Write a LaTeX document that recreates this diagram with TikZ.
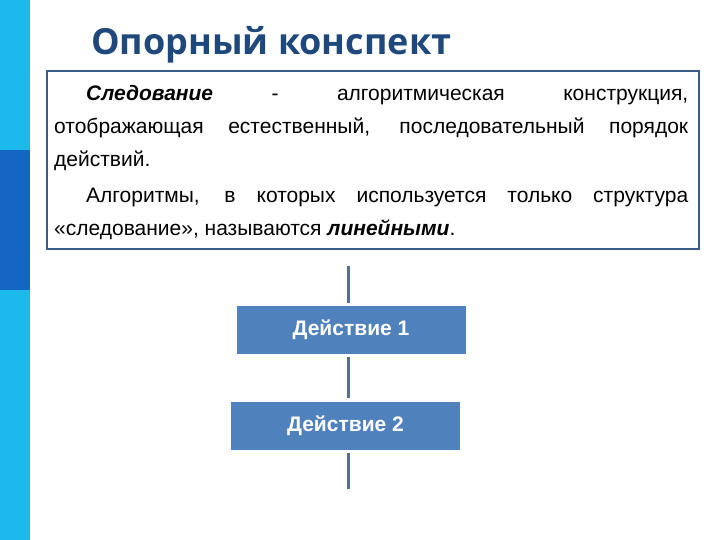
\documentclass[tikz,border=0pt]{standalone}
\usepackage{fontspec}
\setmainfont{Liberation Sans}
\newfontfamily\titlefont{Open Sans}
\usepackage{tikz}
\usetikzlibrary{positioning}
\definecolor{barcyan}{RGB}{28,186,236}
\definecolor{bardark}{RGB}{20,100,196}
\definecolor{titleblue}{RGB}{31,73,125}
\definecolor{framecol}{RGB}{56,93,138}
\definecolor{actfill}{RGB}{79,129,189}
\definecolor{linkcol}{RGB}{84,112,142}
\tikzset{every picture/.style={x=1pt,y=-1pt},
  action/.style={rectangle, fill=actfill, text=white, inner sep=0pt,
    minimum width=229pt, minimum height=48pt,
    font=\bfseries\fontsize{21}{24}\selectfont},
  link/.style={draw=linkcol, line width=3pt}}
\hbadness=10000

\begin{document}
\begin{tikzpicture}
        \useasboundingbox (0,0) rectangle (720,540);

        % Side stripe
        \fill[barcyan] (0,0) rectangle (30,540);
        \fill[bardark] (0,150) rectangle (30,290);

        % Title and the definition frame
        \node[anchor=base west, inner sep=0pt, text=titleblue,
          font=\titlefont\bfseries\fontsize{36}{40}\selectfont] (title) at (91,55) {Опорный конспект};
        \node[draw=framecol, line width=1.2pt, inner sep=0pt,
          minimum width=652pt, minimum height=178pt] (frame) at (373,160) {};
        \node[anchor=north west, inner sep=0pt, text width=634pt, align=justify,
          font=\fontsize{21}{33}\selectfont] (def) at (54,85) {%
          \hspace*{32pt}\textbf{\textit{Следование}} - алгоритмическая конструкция,\linebreak
          отображающая естественный, последовательный порядок\linebreak
          действий.\par\vspace{3pt}
          \hspace*{32pt}Алгоритмы, в которых используется только структура\linebreak
          «следование», называются \textbf{\textit{линейными}}.\par};

        % Define the positions of the steps
        \coordinate (top) at (348,263);
        \node[action] (act1) at (351,330) {Действие 1};
        \node[action] (act2) at (345.5,425.5) {Действие 2};
        \coordinate (bottom) at (348,492);

        % Draw the links
        \foreach \from/\to in {top/act1.north, act1.south/act2.north, act2.south/bottom}
          \draw[link, shorten <=3pt, shorten >=3pt] (top |- \from) -- (top |- \to);
\end{tikzpicture}
\end{document}
